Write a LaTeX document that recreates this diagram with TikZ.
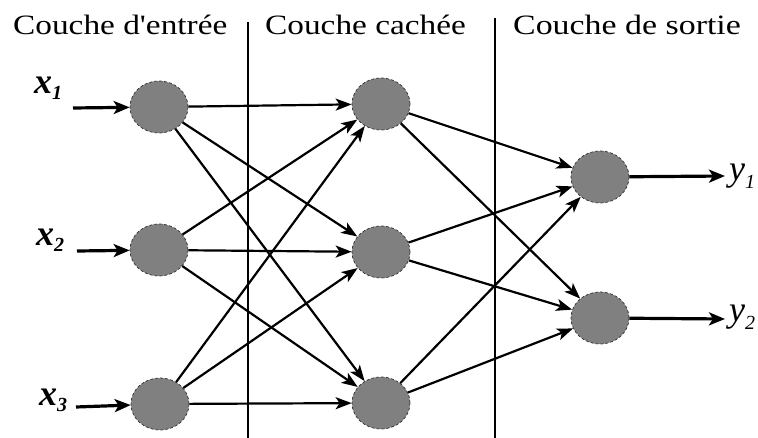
\documentclass[tikz,border=0pt]{standalone}
\usepackage{fontspec}
\usepackage{graphicx}
\setmainfont{Liberation Serif}
\usetikzlibrary{shapes.geometric,arrows.meta}
\begin{document}
\begin{tikzpicture}[x=1pt,y=-1pt,
  neuron/.style={ellipse,fill=black!50,draw=black!80,densely dashed,line width=0.7pt,
    minimum width=58pt,minimum height=52pt,inner sep=0pt},
  conn/.style={line width=2.2pt,-{Stealth[length=16pt,width=12pt,inset=4pt]}},
  io/.style={line width=3.2pt,-{Stealth[length=16pt,width=13pt,inset=4pt]}},
  sepline/.style={line width=2.6pt},
  head/.style={font=\fontsize{28}{30}\selectfont,anchor=base west,inner sep=0pt},
  xlab/.style={font=\fontsize{36}{38}\selectfont\bfseries\itshape,anchor=base west,inner sep=0pt},
  ylab/.style={font=\fontsize{36}{38}\selectfont\itshape,anchor=base west,inner sep=0pt}]
\useasboundingbox (0,0) rectangle (758,438);

% headers
\node[head] (h-in)  at (13,35)  {\scalebox{1.19}[1]{Couche d\textquotesingle entrée}};
\node[head] (h-hid) at (265,35) {\scalebox{1.19}[1]{Couche cachée}};
\node[head] (h-out) at (513,35) {\scalebox{1.21}[1]{Couche de sortie}};

% separators
\coordinate (s1t) at (248,22);
\coordinate (s1b) at (248,438);
\coordinate (s2t) at (495,18);
\coordinate (s2b) at (495,438);
\draw[sepline] (s1t) -- (s1b);
\draw[sepline] (s2t) -- (s2b);

% neurons
\node[neuron] (i1) at (159,107) {};
\node[neuron] (i2) at (159,250) {};
\node[neuron] (i3) at (160,404) {};
\node[neuron] (h1) at (381,104) {};
\node[neuron] (h2) at (381,252) {};
\node[neuron] (h3) at (381,403) {};
\node[neuron] (o1) at (600,177) {};
\node[neuron] (o2) at (600,318) {};

% input labels and arrows
\node[xlab] (lx1) at (34,94)  {x\raisebox{-6pt}{\fontsize{20}{20}\selectfont 1}};
\node[xlab] (lx2) at (36,246) {x\raisebox{-6pt}{\fontsize{20}{20}\selectfont 2}};
\node[xlab] (lx3) at (39,405) {x\raisebox{-6pt}{\fontsize{20}{20}\selectfont 3}};
\coordinate (a1) at (73,108);
\coordinate (a2) at (77,251);
\coordinate (a3) at (76,407);
\draw[io] (a1) -- (i1);
\draw[io] (a2) -- (i2);
\draw[io] (a3) -- (i3);

% input -> hidden
\foreach \i in {1,2,3}
  \foreach \h in {1,2,3}
    \draw[conn] (i\i) -- (h\h);

% hidden -> output
\foreach \h in {1,2,3}
  \foreach \o in {1,2}
    \draw[conn] (h\h) -- (o\o);

% output arrows and labels
\coordinate (e1) at (725,176);
\coordinate (e2) at (725,319);
\draw[io] (o1) -- (e1);
\draw[io] (o2) -- (e2);
\node[ylab] (ly1) at (729,181) {y\raisebox{-8pt}{\fontsize{20}{20}\selectfont 1}};
\node[ylab] (ly2) at (729,322) {y\raisebox{-8pt}{\fontsize{20}{20}\selectfont 2}};
\end{tikzpicture}
\end{document}
